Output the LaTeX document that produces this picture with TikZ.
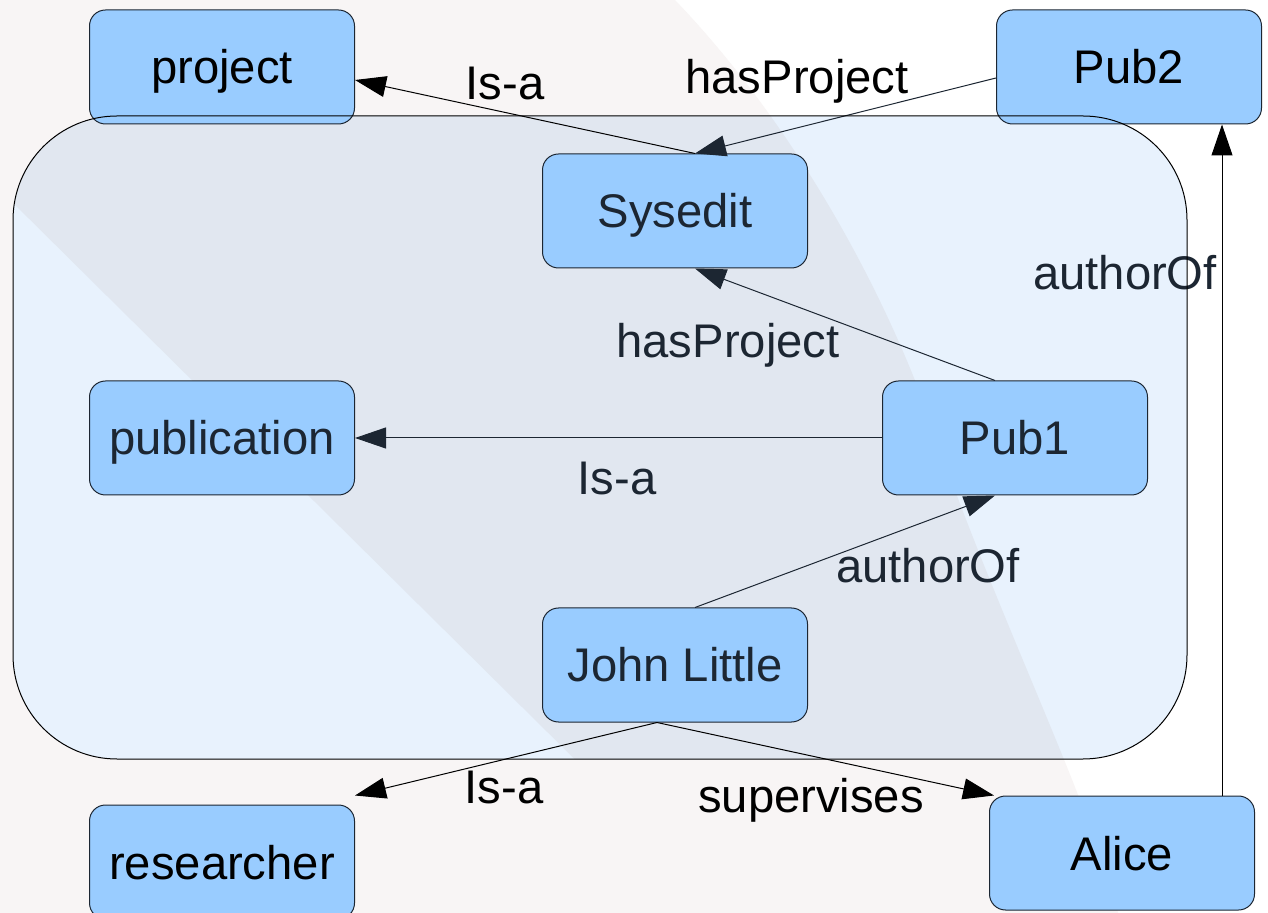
\documentclass[tikz,border=0pt]{standalone}
\usepackage{fontspec}
\setmainfont{Liberation Sans}
\usetikzlibrary{arrows.meta}
\definecolor{boxblue}{RGB}{153,204,255}
\definecolor{contblue}{RGB}{232,242,253}
\definecolor{bandblue}{RGB}{225,231,240}
\definecolor{bgpink}{RGB}{248,245,245}
\definecolor{inktext}{RGB}{28,38,50}
\begin{document}
\begin{tikzpicture}[x=0.5pt,y=-0.5pt,
  box/.style={draw=inktext,line width=0.5pt,fill=boxblue,rounded corners=8pt,
    minimum width=132.5pt,minimum height=57pt,text height=17pt,text depth=0pt,
    font=\fontsize{23.6}{28}\selectfont},
  lbl/.style={anchor=base,inner sep=0pt,font=\fontsize{23.6}{28}\selectfont},
  rel/.style={line width=0.5pt,-{Triangle[length=15.5pt,width=10.5pt]}}]
\useasboundingbox (0,0) rectangle (1268,913);
% slide background
\fill[white] (0,0) rectangle (1268,913);
\fill[bgpink] (0,0) -- (675,0) .. controls (790,120) and (880,280) .. (930,420)
  .. controls (990,600) and (1090,800) .. (1118,913) -- (0,913) -- cycle;
% the grouping box
\fill[contblue,rounded corners=52pt] (13,116) rectangle (1187,759);
\begin{scope}
\clip[rounded corners=52pt] (13,116) rectangle (1187,759);
\fill[bandblue] (-100,91) -- (730,913) -- (1118,913) .. controls (1090,800) and (990,600) .. (930,420)
  .. controls (880,280) and (790,120) .. (675,0) -- (-100,0) -- cycle;
\end{scope}
% classes and individuals
\foreach \nm/\x/\y/\txt/\ink in {project/222/67/project/black, pubtwo/1129/67/Pub2/black,
  researcher/222/862/researcher/black, alice/1122/853/Alice/black,
  sysedit/675/211/Sysedit/inktext, publication/222/438/publication/inktext,
  pubone/1015/438/Pub1/inktext, john/675/665/John Little/inktext}
  \node[box,text=\ink] (\nm) at (\x,\y) {\txt};
% relations
\draw[rel] ([xshift=10pt]sysedit.north) -- ([yshift=-6.5pt]project.east);
\draw[rel,inktext] ([yshift=-5.5pt]pubtwo.west) -- ([xshift=10pt]sysedit.north);
\draw[rel,inktext] ([xshift=-10pt]pubone.north) -- ([xshift=10pt]sysedit.south);
\draw[rel,inktext] (pubone.west) -- (publication.east);
\draw[rel,inktext] ([xshift=10pt]john.north) -- ([xshift=-10pt]pubone.south);
\draw[rel] ([xshift=-9pt]john.south) -- ([shift={(0pt,4.5pt)}]researcher.north east);
\draw[rel] ([xshift=-9pt]john.south) -- ([xshift=2.5pt]alice.north west);
\draw[rel] ([xshift=50pt]alice.north) -- ([xshift=50pt]alice.north |- pubtwo.south);
% relation names
\node[lbl] (isaone) at (505,100) {Is-a};
\node[lbl] (hasone) at (797,94) {hasProject};
\node[lbl,text=inktext] (hastwo) at (728,358) {hasProject};
\node[lbl,text=inktext] (isatwo) at (617,495) {Is-a};
\node[lbl,text=inktext] (authone) at (928,583) {authorOf};
\node[lbl,text=inktext] (authtwo) at (1125,290) {authorOf};
\node[lbl] (isathree) at (504,803) {Is-a};
\node[lbl] (superv) at (811,812) {supervises};
\draw[line width=0.5pt,rounded corners=52pt] (13,116) rectangle (1187,759);
\end{tikzpicture}
\end{document}
